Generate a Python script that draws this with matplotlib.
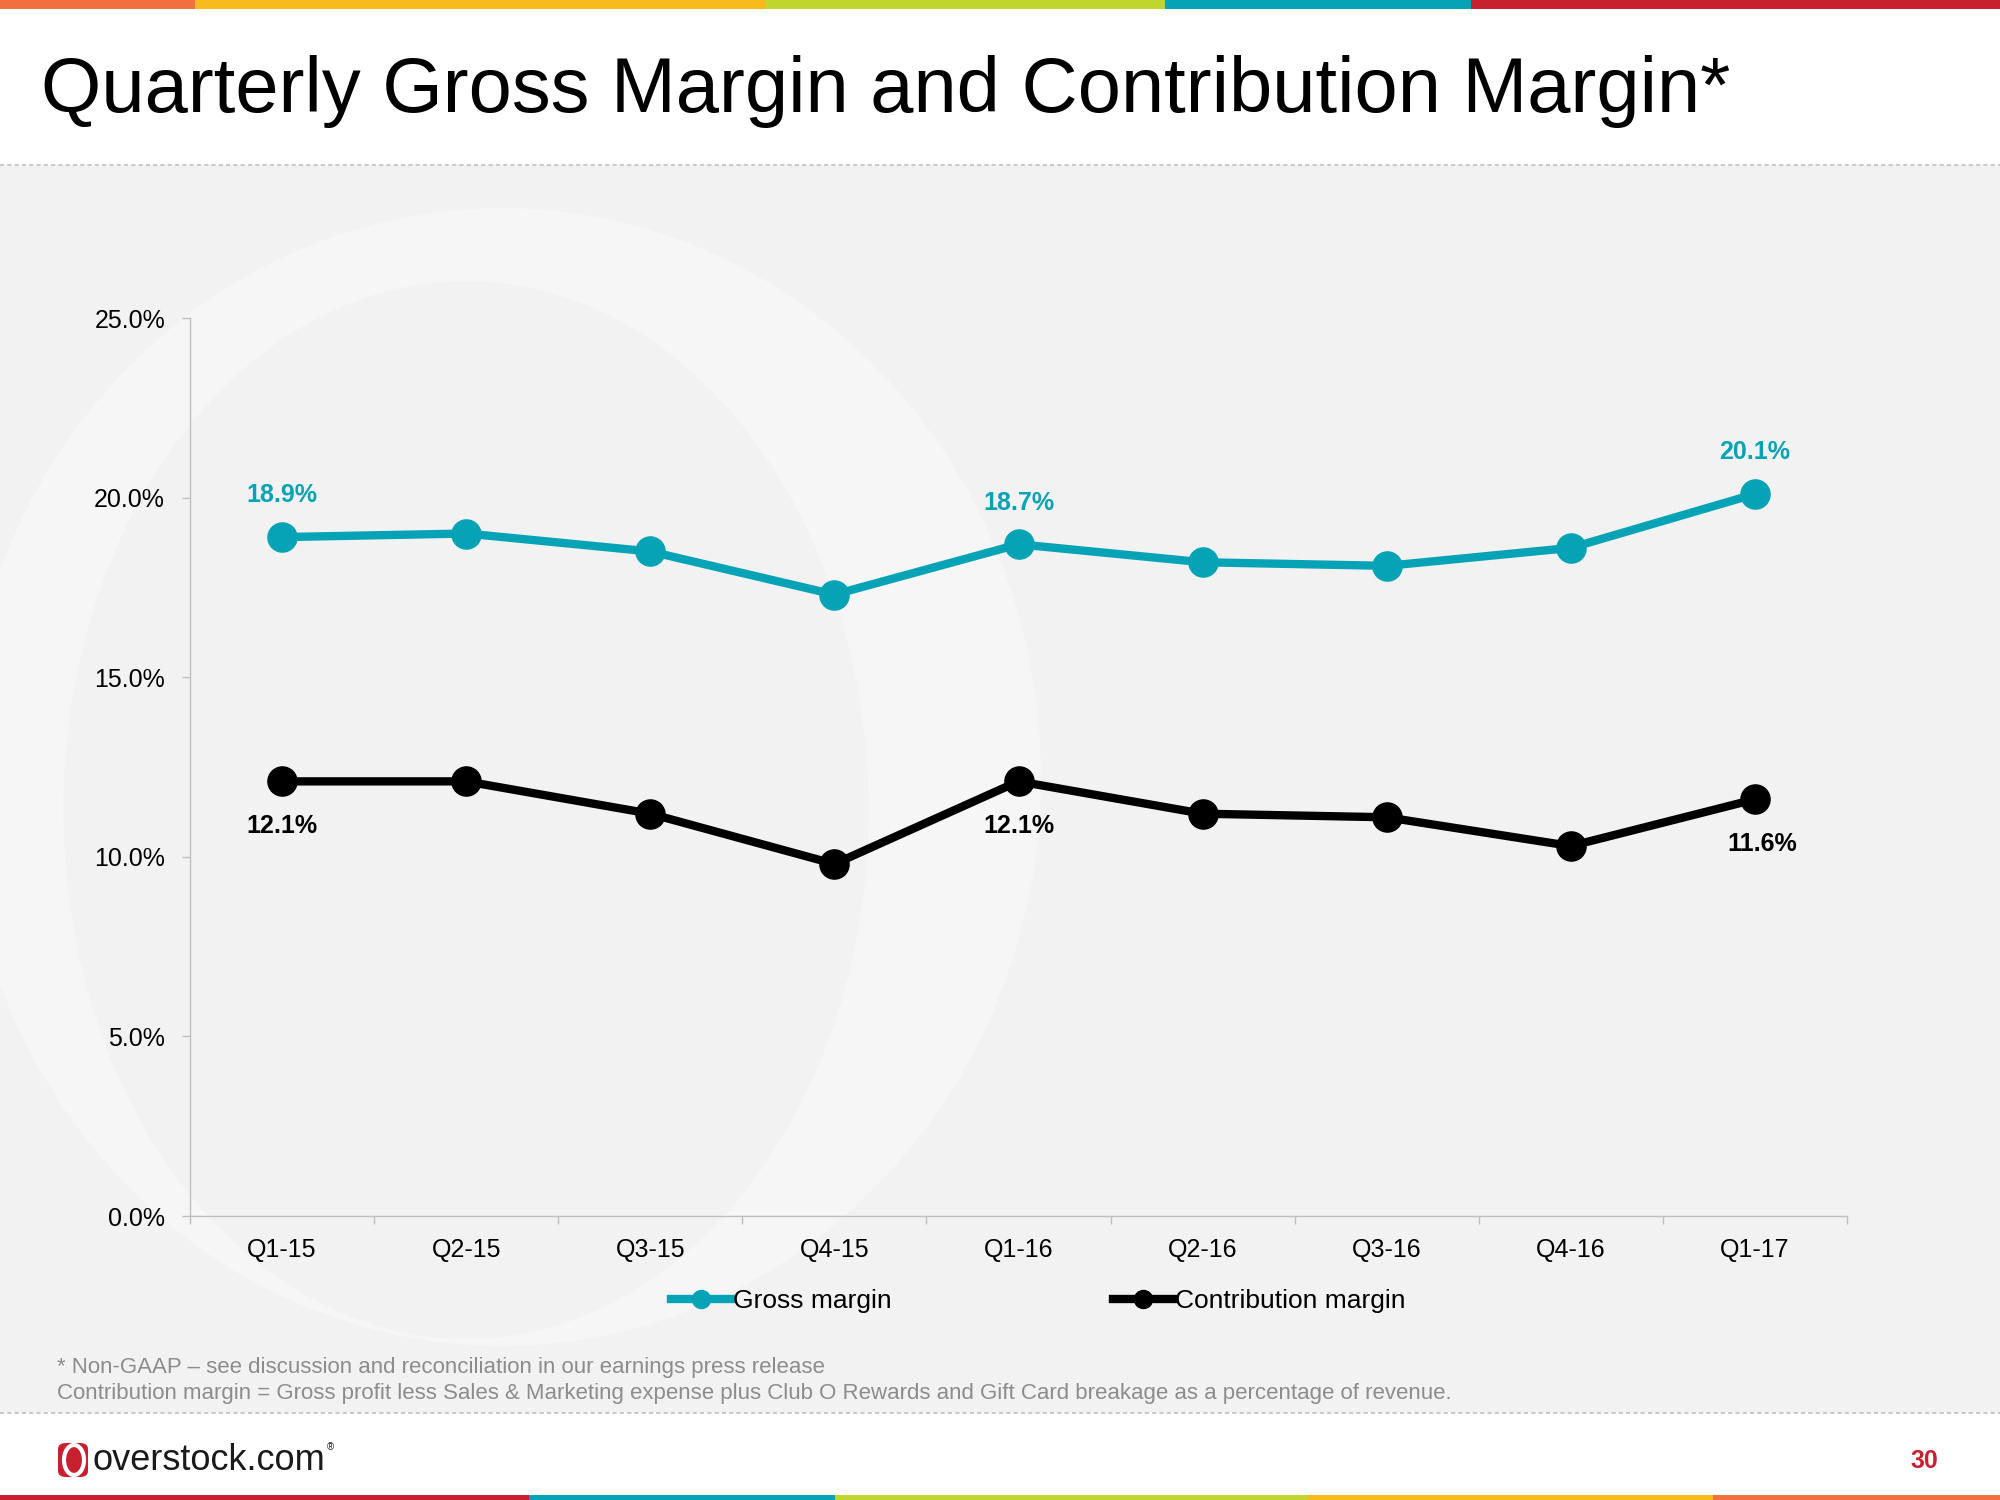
import matplotlib.pyplot as plt
from matplotlib.lines import Line2D
from matplotlib.patches import Rectangle, Ellipse, FancyBboxPatch

plt.rcParams['font.family'] = ['Liberation Sans', 'DejaVu Sans']

# data
quarters = ['Q1-15', 'Q2-15', 'Q3-15', 'Q4-15', 'Q1-16', 'Q2-16', 'Q3-16', 'Q4-16', 'Q1-17']
gross_margin = [18.9, 19.0, 18.5, 17.3, 18.7, 18.2, 18.1, 18.6, 20.1]
contribution_margin = [12.1, 12.1, 11.2, 9.8, 12.1, 11.2, 11.1, 10.3, 11.6]
labelled = [0, 4, 8]  # quarters that carry a value label

TEAL = '#05A3B5'
RED = '#C8202F'
W, H = 2000, 1500


def fx(px):
    return px / W


def fy(py):
    return 1 - py / H


fig = plt.figure(figsize=(20, 15), dpi=100)
fig.patch.set_facecolor('white')

# colour strips top and bottom
top_strip = [(0, 195, '#F26F3F'), (195, 765, '#F7BA1B'), (765, 1165, '#C1D52F'),
             (1165, 1471, '#05A3B5'), (1471, 2000, '#C8202F')]
for x0, x1, c in top_strip:
    fig.add_artist(Rectangle((fx(x0), fy(9)), fx(x1 - x0), 9 / H, color=c, lw=0, zorder=-1))
bot_strip = [(0, 529, '#C8202F'), (529, 835, '#05A3B5'), (835, 1307, '#C1D52F'),
             (1307, 1713, '#F7BA1B'), (1713, 2000, '#F26F3F')]
for x0, x1, c in bot_strip:
    fig.add_artist(Rectangle((fx(x0), 0), fx(x1 - x0), 5 / H, color=c, lw=0, zorder=-1))

# grey content panel + watermark "O"
fig.add_artist(Rectangle((0, fy(1413)), 1, (1413 - 165) / H, color='#F2F2F2', lw=0, zorder=-3))
fig.add_artist(Ellipse((fx(502), fy(777)), fx(1078), 1138 / H, color='#F6F6F6', lw=0, zorder=-2.5))
fig.add_artist(Ellipse((fx(466), fy(810)), fx(805), 1058 / H, color='#F2F2F2', lw=0, zorder=-2))
for yy in (165, 1413):
    fig.add_artist(Line2D([0, 1], [fy(yy), fy(yy)], color='#C9C9C9', lw=1.5,
                          ls=(0, (2, 1.5)), zorder=-1))

fig.text(fx(41), fy(112), 'Quarterly Gross Margin and Contribution Margin*',
         fontsize=56, va='baseline', ha='left', color='black')

# chart
ax = fig.add_axes([fx(190), fy(1216), fx(1847 - 190), (1216 - 318) / H])
ax.set_zorder(2)
ax.patch.set_alpha(0)
x = [i + 0.5 for i in range(len(quarters))]
ax.plot(x, gross_margin, color=TEAL, lw=6, marker='o', ms=21, zorder=3)
ax.plot(x, contribution_margin, color='black', lw=6, marker='o', ms=21, zorder=3)

for i in labelled:
    ax.annotate(f'{gross_margin[i]:.1f}%', (x[i], gross_margin[i]), xytext=(0, 30),
                textcoords='offset points', ha='center', va='center',
                fontsize=18, fontweight='bold', color=TEAL)
    dx = 5 if i == len(quarters) - 1 else 0
    ax.annotate(f'{contribution_margin[i]:.1f}%', (x[i], contribution_margin[i]),
                xytext=(dx, -32), textcoords='offset points', ha='center', va='center',
                fontsize=18, fontweight='bold', color='black')

ax.set_xlim(0, len(quarters))
ax.set_ylim(0, 25)
ax.set_xticks(range(len(quarters) + 1))
ax.set_xticklabels([])
ax.set_xticks(x, minor=True)
ax.set_xticklabels(quarters, minor=True)
ax.set_yticks([0, 5, 10, 15, 20, 25])
ax.set_yticklabels([f'{v:.1f}%' for v in [0, 5, 10, 15, 20, 25]])
ax.tick_params(axis='x', which='major', length=6, color='#BFBFBF', width=1)
ax.tick_params(axis='x', which='minor', length=0, pad=16, labelsize=18)
ax.tick_params(axis='y', length=6, color='#BFBFBF', width=1, pad=12, labelsize=18)
for s in ('top', 'right'):
    ax.spines[s].set_visible(False)
for s in ('left', 'bottom'):
    ax.spines[s].set_color('#BFBFBF')
    ax.spines[s].set_linewidth(1)

handles = [Line2D([], [], color=TEAL, lw=6, marker='o', ms=13),
           Line2D([], [], color='black', lw=6, marker='o', ms=13)]
fig.legend(handles, ['Gross margin', 'Contribution margin'], loc='center',
           bbox_to_anchor=(fx(1038), fy(1301)), ncol=2, frameon=False, fontsize=19,
           handlelength=2.3, handletextpad=0.05, columnspacing=8.4)

fig.text(fx(57), fy(1368), '* Non-GAAP \u2013 see discussion and reconciliation in our earnings press release',
         fontsize=16, color='#8C8C8C', va='center')
fig.text(fx(57), fy(1394), 'Contribution margin = Gross profit less Sales & Marketing expense plus '
         'Club O Rewards and Gift Card breakage as a percentage of revenue.',
         fontsize=16, color='#8C8C8C', va='center')

# footer logo and page number
fig.add_artist(FancyBboxPatch((fx(58), fy(1477)), fx(30), 34 / H,
                              boxstyle='round,pad=0,rounding_size=0.004',
                              color=RED, lw=0, zorder=2))
fig.add_artist(Ellipse((fx(74), fy(1460)), fx(20), 30 / H, facecolor='none',
                       edgecolor='white', lw=3, zorder=3))
fig.text(fx(92), fy(1470), 'overstock.com', fontsize=26, va='baseline', color='#1A1A1A')
fig.text(fx(327), fy(1450), '\u00ae', fontsize=7, va='baseline', color='#1A1A1A')
fig.text(fx(1924), fy(1468), '30', fontsize=18, fontweight='bold', color=RED,
         ha='center', va='baseline')

fig.savefig('out.png', dpi=100)
